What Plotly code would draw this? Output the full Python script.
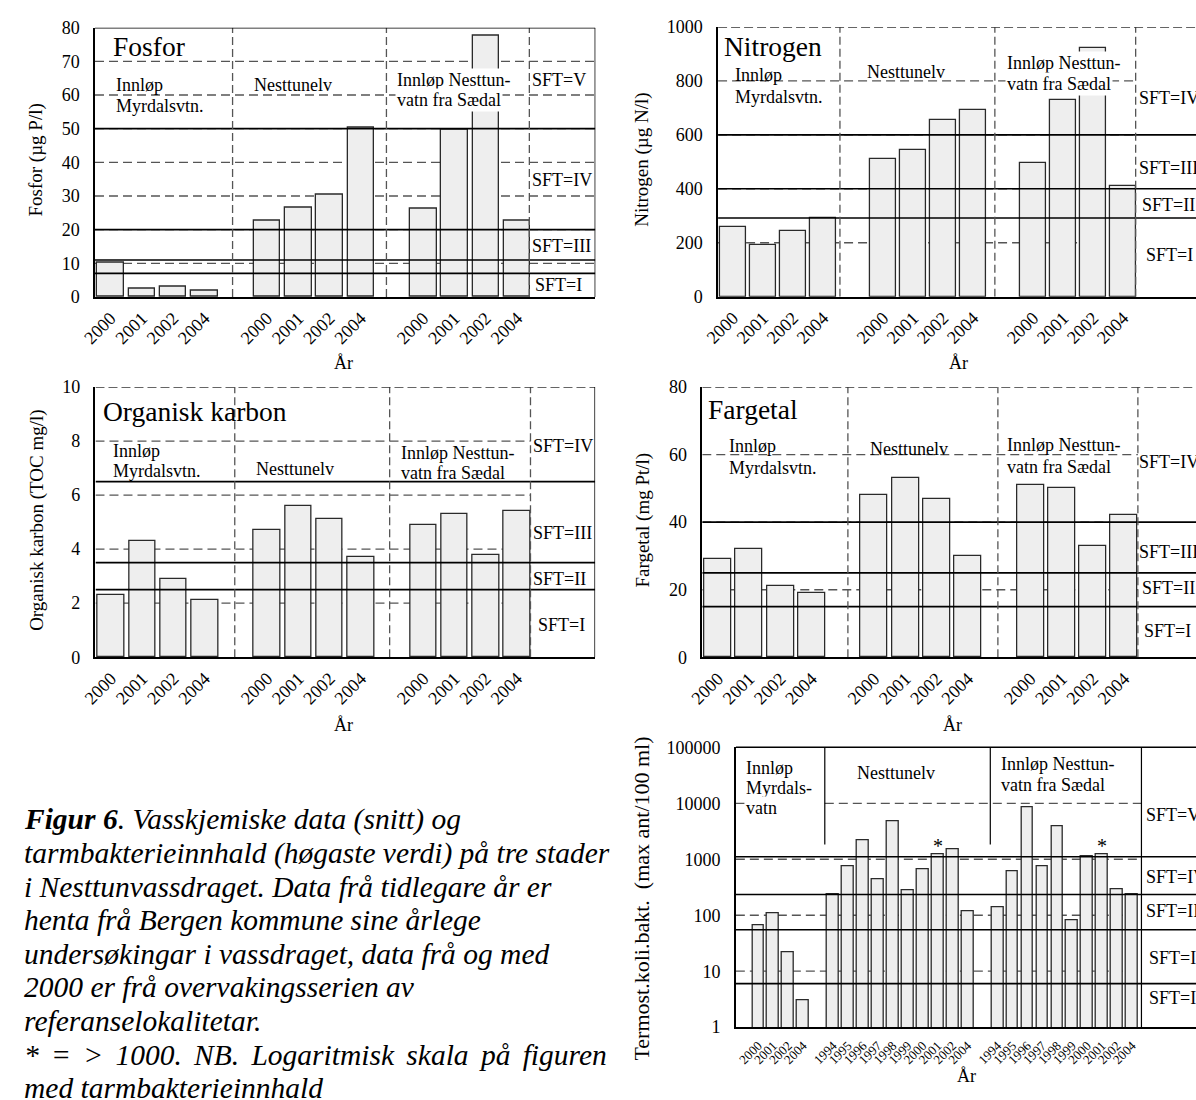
import math
import plotly.graph_objects as go

W, H = 1196, 1100
FONT = "Liberation Serif"

# ---------------- data ----------------
years4 = ["2000", "2001", "2002", "2004"]
stations = ["Innløp Myrdalsvtn.", "Nesttunelv", "Innløp Nesttunvatn fra Sædal"]

fosfor = [10.3, 2.4, 3.0, 1.8, 22.7, 26.5, 30.3, 50.4, 26.1, 49.6, 77.6, 22.8]
nitrogen = [259, 191, 245, 290, 509, 544, 655, 691, 497, 728, 921, 410]
toc = [2.3, 4.3, 2.9, 2.1, 4.7, 5.6, 5.1, 3.7, 4.9, 5.3, 3.8, 5.4]
fargetal = [29, 32, 21, 19, 48, 53, 47, 30, 51, 50, 33, 42]

coli_years_g1 = ["2000", "2001", "2002", "2004"]
coli_years_g2 = ["1994", "1995", "1996", "1997", "1998", "1999", "2000", "2001", "2002", "2004"]
coli_years_g3 = ["1994", "1995", "1996", "1997", "1998", "1999", "2000", "2001", "2002", "2004"]
coli = [66, 107, 22, 3.0,
        234, 733, 2155, 434, 4830, 282, 650, 1209, 1497, 119,
        136, 615, 8624, 744, 3845, 82, 1115, 1209, 294, 234]
coli_over_1000 = [11, 21]  # index of bars marked with *

# SFT class limits (solid lines) and dashed grid values
fos_sft = [7, 11, 20, 50]
nit_sft = [292, 400, 600]
toc_sft = [2.5, 3.5, 6.5]
far_sft = [15, 25, 40]
col_sft = [6, 55, 234, 1110]

fos_grid = [10, 20, 30, 40, 50, 60, 70]
nit_grid = [200, 400, 600, 800]
toc_grid = [2, 4, 6, 8]
far_grid = [20, 40, 60]
col_grid = [10, 100, 1000, 10000]

fos_ticks = [0, 10, 20, 30, 40, 50, 60, 70, 80]
nit_ticks = [0, 200, 400, 600, 800, 1000]
toc_ticks = [0, 2, 4, 6, 8, 10]
far_ticks = [0, 20, 40, 60, 80]
col_ticks = [1, 10, 100, 1000, 10000, 100000]

# ---------------- layout helpers ----------------
pos12 = [g * 5 + i for g in range(3) for i in range(4)]
pos_coli = list(range(4)) + [5 + i for i in range(10)] + [16 + i for i in range(10)]
coli_labels = coli_years_g1 + coli_years_g2 + coli_years_g3

BAR = "#eeeeee"
EDGE = "#2a2a2a"
DASH_C = "#555555"


def xdom(x0, x1):
    return [x0 / W, min(x1 / W, 1.0)]


def ydom(yt, yb):
    return [1 - yb / H, 1 - yt / H]


panels = [
    dict(n="", vals=fosfor, pos=pos12, labels=years4 * 3, x0=81, x1=587.7, yt=18, yb=292.3,
         xr=[-0.5, 15.5], yr=[0, 80], ticks=fos_ticks, sft=fos_sft, grid=fos_grid,
         sep=[3.9, 8.82, 13.39], bw=0.85, grid_full=True, top_dash=False, right=True),
    dict(n="2", vals=nitrogen, pos=pos12, labels=years4 * 3, x0=712, x1=1196, yt=17.3, yb=292,
         xr=[-0.5, 15.42], yr=[0, 1000], ticks=nit_ticks, sft=nit_sft, grid=nit_grid,
         sep=[3.56, 8.72, 13.41], bw=0.855, grid_full=False, top_dash=True, right=False),
    dict(n="3", vals=toc, pos=pos12, labels=years4 * 3, x0=81.5, x1=587.5, yt=384, yb=659.2,
         xr=[-0.5, 15.5], yr=[0, 10], ticks=toc_ticks, sft=toc_sft, grid=toc_grid,
         sep=[3.96, 8.92, 13.43], bw=0.85, grid_full=False, top_dash=True, right=True),
    dict(n="4", vals=fargetal, pos=pos12, labels=years4 * 3, x0=696, x1=1196, yt=384, yb=659.3,
         xr=[-0.5, 15.3], yr=[0, 80], ticks=far_ticks, sft=far_sft, grid=far_grid,
         sep=[4.16, 8.96, 13.44], bw=0.865, grid_full=False, top_dash=True, right=False),
]

fig = go.Figure()
shapes = []
annotations = []


def ann(text, x, y, size=18, xanchor="left", yanchor="middle", **kw):
    d = dict(text=text, x=x / W, y=1 - y / H, xref="paper", yref="paper", showarrow=False,
             xanchor=xanchor, yanchor=yanchor,
             font=dict(family=FONT, size=size, color="black"))
    d.update(kw)
    annotations.append(d)


layout = dict(width=W, height=H, margin=dict(l=0, r=0, t=0, b=0), paper_bgcolor="white",
              plot_bgcolor="white", showlegend=False, bargap=0, hovermode=False)

for p in panels:
    n = p["n"]
    xa, ya = "x" + n, "y" + n
    fig.add_trace(go.Bar(x=p["pos"], y=p["vals"], width=p["bw"], xaxis=xa, yaxis=ya,
                         marker=dict(color=BAR, line=dict(color=EDGE, width=1.3))))
    layout["xaxis" + n] = dict(domain=xdom(p["x0"], p["x1"]), range=p["xr"], anchor=ya,
                               tickmode="array", tickvals=p["pos"], ticktext=p["labels"],
                               tickangle=-45, tickfont=dict(family=FONT, size=18, color="black"),
                               showgrid=False, zeroline=False, showline=True, linecolor="black",
                               linewidth=1.5, ticks="", ticklabelstandoff=2, fixedrange=True)
    layout["yaxis" + n] = dict(domain=ydom(p["yt"], p["yb"]), range=p["yr"], anchor=xa,
                               tickmode="array", tickvals=p["ticks"],
                               tickfont=dict(family=FONT, size=18, color="black"),
                               showgrid=False, zeroline=False, showline=True, linecolor="black",
                               linewidth=1.5, ticks="", ticklabelstandoff=10, fixedrange=True)
    xmin, xmax = p["xr"]
    gx1 = xmax if p["grid_full"] else p["sep"][2]
    for v in p["grid"]:
        shapes.append(dict(type="line", xref=xa, yref=ya, x0=xmin, x1=gx1, y0=v, y1=v,
                           line=dict(color=DASH_C, width=1.3, dash="9px,5px"), layer="below"))
    for v in p["sft"]:
        shapes.append(dict(type="line", xref=xa, yref=ya, x0=xmin, x1=xmax, y0=v, y1=v,
                           line=dict(color="black", width=1.6), layer="above"))
    for s in p["sep"]:
        shapes.append(dict(type="line", xref=xa, yref=ya, x0=s, x1=s, y0=p["yr"][0], y1=p["yr"][1],
                           line=dict(color=DASH_C, width=1.3, dash="8px,4px"), layer="above"))
    top = p["yr"][1]
    shapes.append(dict(type="line", xref=xa, yref=ya, x0=xmin, x1=xmax, y0=top, y1=top,
                       line=dict(color="#333333" if p["top_dash"] else "black", width=1.5,
                                 dash="9px,4px" if p["top_dash"] else "solid"), layer="above"))
    if p["right"]:
        shapes.append(dict(type="line", xref=xa, yref=ya, x0=xmax, x1=xmax, y0=p["yr"][0], y1=top,
                           line=dict(color="black", width=1.5), layer="above"))

# ---------------- coliform panel (log) ----------------
cx0, cx1, cyt, cyb = 730, 1196, 751, 1036
cxr = [-1.5, -1.5 + (cx1 - cx0) / 15.14]
fig.add_trace(go.Bar(x=pos_coli, y=coli, width=0.79, xaxis="x5", yaxis="y5",
                     marker=dict(color=BAR, line=dict(color=EDGE, width=1.3))))
layout["xaxis5"] = dict(domain=xdom(cx0, cx1), range=cxr, anchor="y5", tickmode="array",
                        tickvals=pos_coli, ticktext=coli_labels, tickangle=-45,
                        tickfont=dict(family=FONT, size=13, color="black"), showgrid=False,
                        zeroline=False, showline=True, linecolor="black", linewidth=1.5, ticks="",
                        ticklabelstandoff=4, fixedrange=True)
layout["yaxis5"] = dict(domain=ydom(cyt, cyb), type="log", range=[0, 5], anchor="x5",
                        tickmode="array", tickvals=col_ticks, ticktext=[str(t) for t in col_ticks],
                        tickfont=dict(family=FONT, size=18, color="black"), showgrid=False,
                        zeroline=False, showline=True, linecolor="black", linewidth=1.5, ticks="",
                        ticklabelstandoff=10, fixedrange=True)


def cy(v):
    return math.log10(v) / 5.0


col_sep = [4.45, 15.52, 25.63]
for v in col_grid:
    x0 = cxr[0] if v != 10000 else col_sep[0]
    shapes.append(dict(type="line", xref="x5", yref="y5 domain", x0=x0, x1=col_sep[2],
                       y0=cy(v), y1=cy(v), line=dict(color=DASH_C, width=1.3, dash="9px,5px"),
                       layer="below"))
# short dash stub left of the "vatn" label
shapes.append(dict(type="line", xref="x5", yref="y5 domain", x0=cxr[0], x1=cxr[0] + 0.6,
                   y0=cy(10000), y1=cy(10000), line=dict(color=DASH_C, width=1.3), layer="below"))
for v in col_sft:
    shapes.append(dict(type="line", xref="x5", yref="y5 domain", x0=cxr[0], x1=cxr[1],
                       y0=cy(v), y1=cy(v), line=dict(color="black", width=1.6), layer="above"))
for i, s in enumerate(col_sep):
    y0 = 0.0 if i == 2 else cy(1833)
    shapes.append(dict(type="line", xref="x5", yref="y5 domain", x0=s, x1=s, y0=y0, y1=1.0,
                       line=dict(color="black", width=1.2), layer="above"))
shapes.append(dict(type="line", xref="x5", yref="y5 domain", x0=cxr[0], x1=cxr[1], y0=1, y1=1,
                   line=dict(color="black", width=1.5), layer="above"))
for i in coli_over_1000:
    annotations.append(dict(text="*", x=pos_coli[i], y=cy(coli[i]), xref="x5", yref="y5 domain",
                            showarrow=False, xanchor="center", yanchor="bottom", yshift=-4,
                            font=dict(family=FONT, size=20, color="black")))

# ---------------- texts ----------------
# Fosfor
ann("Fosfor", 97.7, 37.5, size=27.5)
ann("Innløp", 100, 76.8)
ann("Myrdalsvtn.", 100, 97.5)
ann("Nesttunelv", 240, 76.7)
ann("Innløp Nesttun-", 385, 70.8, bgcolor="white", borderpad=1)
ann("vatn fra Sædal", 385, 91.7, bgcolor="white", borderpad=1)
ann("SFT=V", 521.7, 71)
ann("SFT=IV", 521.7, 172.7)
ann("SFT=III", 521.7, 240)
ann("SFT=I", 524.3, 280)
ann("Fosfor (µg P/l)", 21.6, 153, size=19, xanchor="center", textangle=-90)
ann("År", 333, 360, xanchor="center")

# Nitrogen
ann("Nitrogen", 716, 37.5, size=27.5)
ann("Innløp", 727.3, 66.7)
ann("Myrdalsvtn.", 727.3, 88.3)
ann("Nesttunelv", 860.7, 63.3)
ann("Innløp Nesttun-", 1002.7, 54.3, bgcolor="white", borderpad=1)
ann("vatn fra Sædal", 1002.7, 75, bgcolor="white", borderpad=1)
ann("SFT=IV", 1136, 89.3)
ann("SFT=III", 1136, 161.3)
ann("SFT=II", 1139, 198.7)
ann("SFT=I", 1143, 250)
ann("Nitrogen (µg N/l)", 635.5, 153, size=19, xanchor="center", textangle=-90)
ann("År", 955.4, 359.3, xanchor="center")

# Organisk karbon
ann("Organisk karbon", 87.3, 409.3, size=27.5)
ann("Innløp", 97.6, 449)
ann("Myrdalsvtn.", 97.6, 470)
ann("Nesttunelv", 242.3, 467.3)
ann("Innløp Nesttun-", 389.2, 451)
ann("vatn fra Sædal", 389.2, 471.7)
ann("SFT=IV", 522.4, 444)
ann("SFT=III", 522.4, 532.3)
ann("SFT=II", 522.4, 579.7)
ann("SFT=I", 528.1, 626)
ann("Organisk karbon (TOC mg/l)", 21.6, 520, size=19, xanchor="center", textangle=-90)
ann("År", 333, 728.3, xanchor="center")

# Fargetal
ann("Fargetal", 700, 406.7, size=27.5)
ann("Innløp", 720.9, 444)
ann("Myrdalsvtn.", 720.9, 466.7)
ann("Nesttunelv", 864.2, 447.3)
ann("Innløp Nesttun-", 1002.9, 442.7)
ann("vatn fra Sædal", 1002.9, 465)
ann("SFT=IV", 1136.7, 460)
ann("SFT=III", 1136.7, 551.7)
ann("SFT=II", 1139.7, 589)
ann("SFT=I", 1141.6, 632.7)
ann("Fargetal (mg Pt/l)", 636, 520, size=19, xanchor="center", textangle=-90)
ann("År", 949, 728.3, xanchor="center")

# Coliform
ann("Innløp", 738.3, 771.7)
ann("Myrdals-", 738.3, 792.3)
ann("vatn", 738.3, 812.7, bgcolor="white", borderpad=1)
ann("Nesttunelv", 850.7, 776.7)
ann("Innløp Nesttun-", 996.7, 768.3)
ann("vatn fra Sædal", 996.7, 789.3)
ann("SFT=V", 1143, 820)
ann("SFT=IV", 1143, 883.3)
ann("SFT=III", 1143, 917.3)
ann("SFT=II", 1146, 965.3)
ann("SFT=I", 1146, 1006.7)
ann("Termost.koli.bakt.  (max ant/100 ml)", 635, 905, size=22, xanchor="center", textangle=-90)
ann("År", 963.3, 1086, xanchor="center")

# Caption
sp = "\u2006"
caption = [
    "<b>Figur 6</b>. Vasskjemiske data (snitt) og",
    "tarmbakterieinnhald (høgaste verdi) på tre stader",
    "i Nesttunvassdraget. Data frå tidlegare år er",
    "henta frå Bergen kommune sine årlege",
    "undersøkingar i vassdraget, data frå og med",
    "2000 er frå overvakingsserien av",
    "referanselokalitetar.",
    f"*{sp} ={sp} >{sp} 1000.{sp} NB.{sp} Logaritmisk{sp} skala{sp} på{sp} figuren",
    "med tarmbakterieinnhald",
]
for i, line in enumerate(caption):
    annotations.append(dict(text=line, x=7 / W, y=1 - (824.5 + 34.2 * i) / H, xref="paper",
                            yref="paper", showarrow=False, xanchor="left", yanchor="middle",
                            font=dict(family=FONT, size=29.5, color="black", style="italic")))

layout["shapes"] = shapes
layout["annotations"] = annotations
fig.update_layout(**layout)
fig.write_html("out.html")
